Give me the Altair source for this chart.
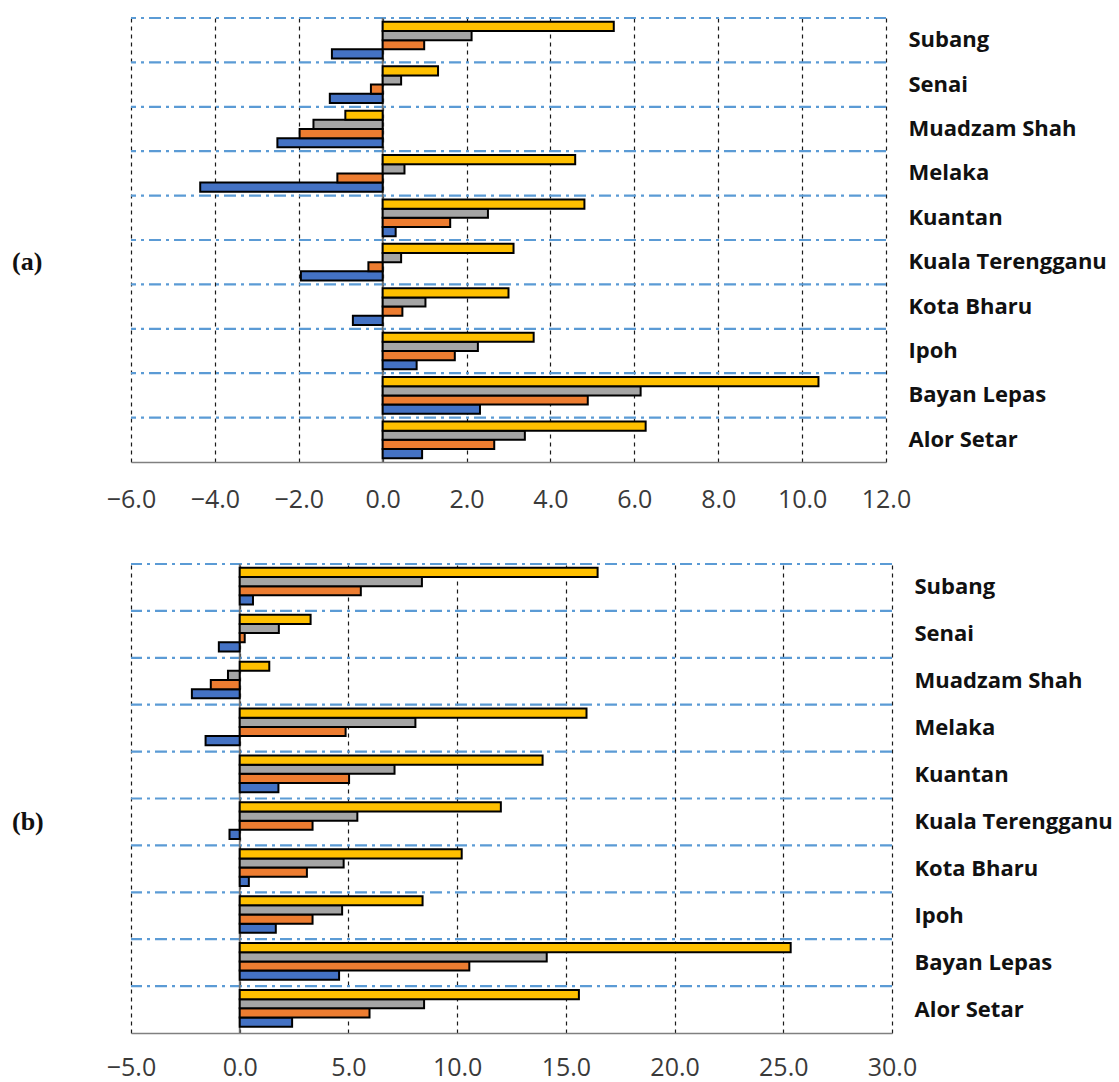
import altair as alt
import pandas as pd

# Stations, listed top to bottom as drawn
stations = ["Subang", "Senai", "Muadzam Shah", "Melaka", "Kuantan",
            "Kuala Terengganu", "Kota Bharu", "Ipoh", "Bayan Lepas", "Alor Setar"]

# Four series per station, in the order blue, orange, gray, yellow
series = ["S1", "S2", "S3", "S4"]
series_colors = ["#4472C4", "#ED7D31", "#A5A5A5", "#FFC000"]

# Panel (a) values, aligned with `stations`
a_s1 = [-1.21, -1.26, -2.51, -4.35, 0.31, -1.95, -0.71, 0.81, 2.32, 0.94]
a_s2 = [0.99, -0.28, -1.98, -1.08, 1.61, -0.34, 0.47, 1.72, 4.89, 2.66]
a_s3 = [2.12, 0.44, -1.65, 0.52, 2.51, 0.44, 1.02, 2.27, 6.15, 3.39]
a_s4 = [5.51, 1.32, -0.89, 4.59, 4.81, 3.12, 3.00, 3.60, 10.39, 6.27]

# Panel (b) values, aligned with `stations`
b_s1 = [0.61, -0.96, -2.20, -1.57, 1.78, -0.47, 0.42, 1.66, 4.57, 2.41]
b_s2 = [5.57, 0.23, -1.33, 4.87, 5.03, 3.35, 3.09, 3.35, 10.56, 5.97]
b_s3 = [8.38, 1.80, -0.54, 8.08, 7.12, 5.41, 4.78, 4.71, 14.12, 8.48]
b_s4 = [16.46, 3.26, 1.36, 15.95, 13.93, 12.01, 10.21, 8.41, 25.34, 15.60]

a_ticks = [-6, -4, -2, 0, 2, 4, 6, 8, 10, 12]
b_ticks = [-5, 0, 5, 10, 15, 20, 25, 30]

TICK_FONT = "Open Sans"
CAT_FONT = "Open Sans"


def long_table(cols):
    rows = []
    for name, vals in zip(series, cols):
        for st, v in zip(stations, vals):
            rows.append({"station": st, "series": name, "value": v})
    return pd.DataFrame(rows)


def panel(cols, ticks, tag, width, height, label_pad):
    df = long_table(cols)
    y_scale = alt.Scale(domain=stations, paddingInner=0, paddingOuter=0)
    x_scale = alt.Scale(domain=[ticks[0], ticks[-1]], nice=False, zero=False)

    # one axis definition per channel, shared by every layer so they merge
    x_axis = alt.Axis(
        values=ticks, format=".1f", title="",
        grid=True, gridColor="#1a1a1a", gridDash=[4, 4], gridWidth=1.2,
        ticks=False, domainColor="#808080", domainWidth=1.6,
        labelFont=TICK_FONT, labelFontSize=25, labelColor="#3a3a3a",
        labelPadding=label_pad, labelFlush=False, labelOverlap=False,
    )
    y_axis = alt.Axis(
        orient="right", title="", ticks=False, domain=False, grid=False,
        labelFont=CAT_FONT, labelFontWeight="bold", labelFontSize=22,
        labelColor="#111111", labelPadding=22, labelAlign="left",
        labelLimit=400,
    )

    bars = alt.Chart(df).mark_bar(stroke="#000000", strokeWidth=2).encode(
        x=alt.X("value:Q", scale=x_scale, axis=x_axis),
        y=alt.Y("station:N", scale=y_scale, axis=y_axis),
        yOffset=alt.YOffset(
            "series:N",
            scale=alt.Scale(domain=series[::-1], paddingInner=0, paddingOuter=0.42),
        ),
        color=alt.Color(
            "series:N",
            scale=alt.Scale(domain=series, range=series_colors),
            legend=None,
        ),
    )

    # dash-dot separators at the top edge of each station band
    seps = alt.Chart(pd.DataFrame({"station": stations})).mark_rule(
        color="#5B9BD5", strokeWidth=2.2, strokeDash=[12, 5, 3, 5]
    ).encode(
        y=alt.Y("station:N", scale=y_scale, bandPosition=0, axis=y_axis),
    )

    # vertical category axis at zero
    zero = alt.Chart(pd.DataFrame({"value": [0]})).mark_rule(
        color="#6f6f6f", strokeWidth=1.8
    ).encode(x=alt.X("value:Q", scale=x_scale, axis=x_axis))

    # panel tag on the left, level with the Kuala Terengganu band
    tag_layer = alt.Chart(
        pd.DataFrame({"station": ["Kuala Terengganu"], "tag": [tag]})
    ).mark_text(
        font="Liberation Serif", fontWeight="bold", fontSize=26,
        align="left", baseline="middle", color="#111111",
    ).encode(
        x=alt.value(-119),
        y=alt.Y("station:N", scale=y_scale, axis=y_axis),
        text="tag:N",
    )

    return alt.layer(seps, zero, bars, tag_layer).properties(width=width, height=height)


top = panel([a_s1, a_s2, a_s3, a_s4], a_ticks, "(a)", 755, 444, 25)
bottom = panel([b_s1, b_s2, b_s3, b_s4], b_ticks, "(b)", 761, 469, 22)

chart = alt.vconcat(top, bottom, spacing=50).properties(
    padding={"left": 12, "top": 16, "right": 2, "bottom": 2},
    background="white",
).configure_view(strokeWidth=0)

chart.save("out.html", embed_options={"renderer": "svg", "actions": False})
